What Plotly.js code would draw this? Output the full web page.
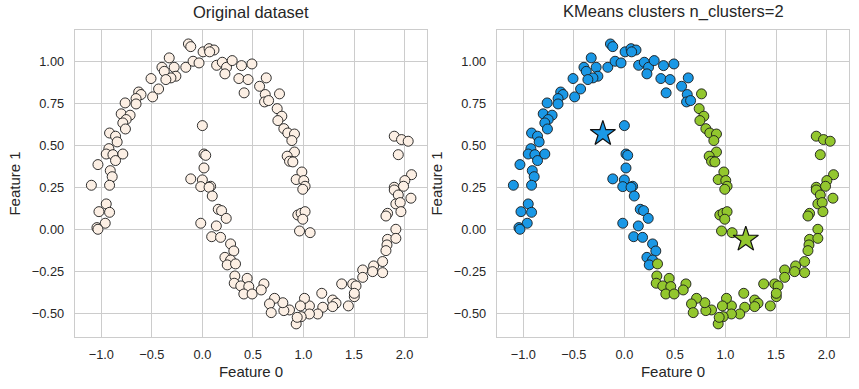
<!DOCTYPE html>
<html>
<head>
<meta charset="utf-8">
<script src="https://cdn.plot.ly/plotly-3.0.1.min.js"></script>
<style>html,body{margin:0;padding:0;background:#fff;}#chart{width:859px;height:389px;}</style>
</head>
<body>
<div id="chart"></div>
<script>
// Feature 0 / Feature 1 values, with the KMeans cluster label (0 = blue, 1 = green)
const feature0 = [
  -0.138,-0.115,0.007,0.066,0.115,0.072,-0.328,-0.400,-0.377,-0.279,-0.262,-0.311,-0.361,-0.164,-0.092,-0.033,
  0.141,0.197,0.239,0.295,0.387,0.223,0.361,0.452,0.413,-0.508,-0.433,-0.492,-0.630,-0.607,-0.656,-0.656,
  -0.764,-0.803,-0.715,-0.754,-0.787,-0.761,-0.918,-0.859,-0.843,-0.925,-0.951,-0.885,-0.859,-0.787,-1.033,-0.911,
  -0.892,-1.098,-0.918,0.000,0.016,0.033,0.016,-0.115,0.000,0.082,
  -0.951,-1.023,-0.918,-0.961,-1.043,-1.033,-0.016,0.066,0.098,0.157,0.190,0.236,-0.016,0.138,0.092,0.180,
  0.279,0.311,0.223,0.279,0.246,
  0.490,0.632,0.566,0.622,0.615,0.655,
  0.328,0.321,0.443,0.315,0.380,0.459,0.410,0.492,
  0.763,0.740,0.786,0.747,0.806,0.845,0.911,0.885,0.911,0.839,0.862,0.895,0.984,0.928,1.003,1.016,
  1.898,1.970,2.036,1.938,2.069,2.003,1.898,1.990,
  0.993,0.944,0.977,1.016,0.993,0.961,1.066,
  1.898,1.938,2.063,1.914,1.957,1.832,1.816,1.964,1.914,1.832,1.914,1.826,1.816,1.783,
  1.694,1.684,1.783,1.586,1.586,1.487,1.520,1.378,1.503,1.503,1.444,1.289,1.322,1.289,
  1.181,1.191,1.141,1.059,1.010,0.970,1.059,0.977,0.928,0.938,0.862,0.806,0.796,0.714,0.664,0.681,
  0.609,0.582
];
const feature1 = [
  1.103,1.087,1.056,1.075,1.067,1.056,1.020,0.964,0.940,0.964,0.911,0.901,0.891,0.964,1.000,0.990,
  0.976,0.994,0.964,1.004,0.974,0.925,0.897,0.891,0.812,0.897,0.835,0.788,0.817,0.802,0.778,0.746,
  0.752,0.687,0.679,0.653,0.633,0.597,0.573,0.554,0.520,0.480,0.448,0.444,0.409,0.448,0.385,0.349,
  0.313,0.262,0.262,0.617,0.448,0.440,0.365,0.300,0.294,0.256,
  0.151,0.105,0.101,0.036,0.010,0.000,0.254,0.250,0.198,0.119,0.111,0.065,0.036,0.020,-0.044,-0.048,
  -0.087,-0.129,-0.167,-0.183,-0.212,
  0.984,0.901,0.851,0.802,0.758,0.766,
  -0.206,-0.278,-0.292,-0.321,-0.337,-0.341,-0.385,-0.385,
  0.806,0.718,0.673,0.647,0.599,0.573,0.567,0.528,0.460,0.435,0.405,0.401,0.341,0.296,0.290,0.256,
  0.554,0.534,0.524,0.444,0.325,0.290,0.250,0.256,
  0.238,0.085,0.095,0.105,0.060,-0.010,-0.020,
  0.234,0.204,0.185,0.151,0.159,0.095,0.079,0.105,0.000,-0.060,-0.054,-0.093,-0.127,-0.192,
  -0.218,-0.252,-0.258,-0.242,-0.286,-0.325,-0.337,-0.325,-0.401,-0.381,-0.456,-0.421,-0.440,-0.460,
  -0.381,-0.464,-0.504,-0.456,-0.411,-0.456,-0.504,-0.520,-0.563,-0.524,-0.480,-0.484,-0.437,-0.411,-0.444,-0.496,
  -0.325,-0.361
];
const cluster = [
  0,0,0,0,0,0,0,0,0,0,0,0,0,0,0,0,
  0,0,0,0,0,0,0,0,0,0,0,0,0,0,0,0,
  0,0,0,0,0,0,0,0,0,0,0,0,0,0,0,0,
  0,0,0,0,0,0,0,0,0,0,
  0,0,0,0,0,0,0,0,0,0,0,0,0,0,0,0,
  0,0,0,0,0,
  0,0,0,0,0,0,
  1,1,1,1,1,1,1,1,
  1,1,1,1,1,1,1,1,1,1,1,1,1,1,1,1,
  1,1,1,1,1,1,1,1,
  1,1,1,1,1,1,1,
  1,1,1,1,1,1,1,1,1,1,1,1,1,1,
  1,1,1,1,1,1,1,1,1,1,1,1,1,1,
  1,1,1,1,1,1,1,1,1,1,1,1,1,1,1,1,
  1,1
];
const centerX = [-0.213, 1.201];
const centerY = [0.569, -0.060];
const clusterColors = ["#1a98e6", "#93c72e"];
const xTickVals = [-1.0, -0.5, 0.0, 0.5, 1.0, 1.5, 2.0];
const xTickText = ["\u22121.0", "\u22120.5", "0.0", "0.5", "1.0", "1.5", "2.0"];
const yTickVals = [-0.5, -0.25, 0.0, 0.25, 0.5, 0.75, 1.0];
const yTickText = ["\u22120.50", "\u22120.25", "0.00", "0.25", "0.50", "0.75", "1.00"];
const titles = ["Original dataset", "KMeans clusters n_clusters=2"];

const FONT = "Liberation Sans, Arial, sans-serif";
const TXT = "#262626";
const edge = {color: "#1a1a1a", width: 0.9};

const traces = [];
traces.push({
  type: "scatter", mode: "markers", x: feature0, y: feature1, xaxis: "x", yaxis: "y",
  marker: {size: 10, color: "#fcefe4", line: edge}, hoverinfo: "x+y", showlegend: false
});
[0, 1].forEach(function (k) {
  const xs = [], ys = [];
  for (let i = 0; i < feature0.length; i++) {
    if (cluster[i] === k) { xs.push(feature0[i]); ys.push(feature1[i]); }
  }
  traces.push({
    type: "scatter", mode: "markers", x: xs, y: ys, xaxis: "x2", yaxis: "y2",
    marker: {size: 10, color: clusterColors[k], line: edge}, showlegend: false
  });
});
traces.push({
  type: "scatter", mode: "markers", x: centerX, y: centerY, xaxis: "x2", yaxis: "y2",
  marker: {symbol: "star", size: 19, color: clusterColors, line: {color: "#111", width: 1.2}},
  showlegend: false
});

function xAxis(domain, anchor) {
  return {
    domain: domain, anchor: anchor, range: [-1.26, 2.222],
    tickmode: "array", tickvals: xTickVals, ticktext: xTickText,
    showgrid: true, gridcolor: "#cccccc", gridwidth: 1, zeroline: false,
    showline: true, linecolor: "#cccccc", linewidth: 1.3, mirror: true,
    ticks: "", ticklabelstandoff: 5,
    tickfont: {family: FONT, size: 12.8, color: TXT},
    title: {text: "Feature 0", font: {family: FONT, size: 15, color: TXT}, standoff: 5}
  };
}
function yAxis(domain, anchor) {
  return {
    domain: domain, anchor: anchor, range: [-0.641, 1.186],
    tickmode: "array", tickvals: yTickVals, ticktext: yTickText,
    showgrid: true, gridcolor: "#cccccc", gridwidth: 1, zeroline: false,
    showline: true, linecolor: "#cccccc", linewidth: 1.3, mirror: true,
    ticks: "", ticklabelstandoff: 7,
    tickfont: {family: FONT, size: 12.8, color: TXT},
    title: {text: "Feature 1", font: {family: FONT, size: 15, color: TXT}, standoff: 7}
  };
}

const xd1 = [75 / 859, 427 / 859], xd2 = [497 / 859, 849 / 859];
const yd = [1 - 337 / 389, 1 - 30 / 389];

const layout = {
  width: 859, height: 389,
  margin: {l: 0, r: 0, t: 0, b: 0},
  paper_bgcolor: "#ffffff", plot_bgcolor: "#ffffff",
  font: {family: FONT, color: TXT},
  xaxis: xAxis(xd1, "y"), yaxis: yAxis(yd, "x"),
  xaxis2: xAxis(xd2, "y2"), yaxis2: yAxis(yd, "x2"),
  annotations: [
    {text: titles[0], xref: "paper", yref: "paper", x: (xd1[0] + xd1[1]) / 2, y: 1 - 12 / 389,
     xanchor: "center", yanchor: "middle", showarrow: false, font: {family: FONT, size: 16.5, color: TXT}},
    {text: titles[1], xref: "paper", yref: "paper", x: (xd2[0] + xd2[1]) / 2, y: 1 - 12 / 389,
     xanchor: "center", yanchor: "middle", showarrow: false, font: {family: FONT, size: 16.5, color: TXT}}
  ],
  showlegend: false
};

Plotly.newPlot("chart", traces, layout, {displayModeBar: false, staticPlot: true});
</script>
</body>
</html>
